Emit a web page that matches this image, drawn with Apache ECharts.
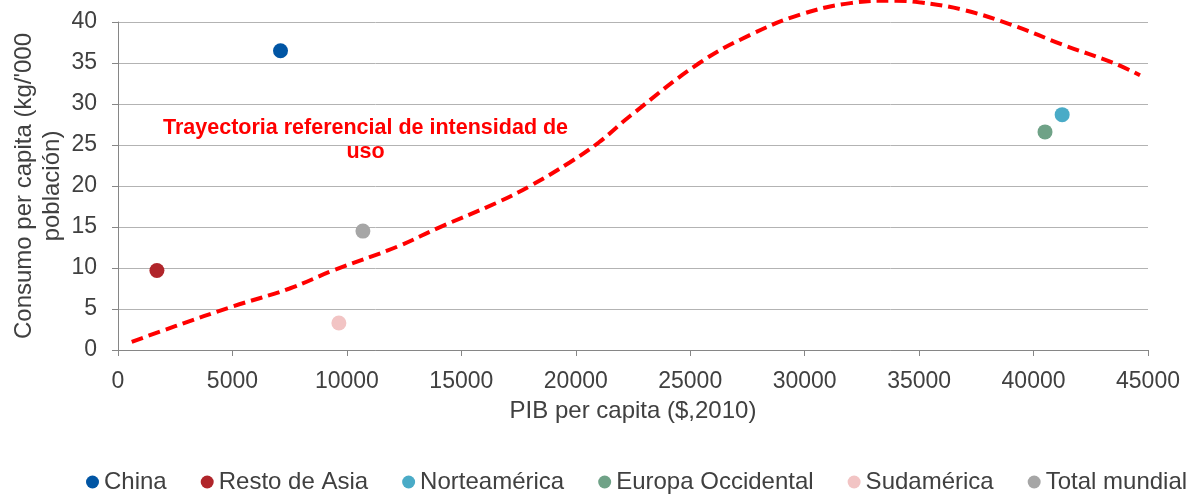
<!DOCTYPE html>
<html>
<head>
<meta charset="utf-8">
<script src="https://cdn.jsdelivr.net/npm/echarts@6/dist/echarts.min.js"></script>
<style>
  html, body { margin: 0; padding: 0; background: #fff; }
  #chart { width: 1193px; height: 494px; }
</style>
</head>
<body>
<div id="chart"></div>
<script>
// regiones: [PIB per capita, consumo per capita]
const regions = ['China', 'Resto de Asia', 'Norteamérica', 'Europa Occidental', 'Sudamérica', 'Total mundial']
const regionColors = ['#0055a4', '#b0252a', '#4aabc7', '#6fa287', '#f2c4c4', '#a6a6a6']
const regionPoints = [
  [7100, 36.5],
  [1700, 9.7],
  [41250, 28.7],
  [40500, 26.6],
  [9650, 3.3],
  [10700, 14.5],
]

// trayectoria referencial (curva punteada)
const trendX = [600, 2500, 5000, 7500, 9400, 12200, 14000, 16500, 18000, 19750, 21000, 22400, 25400, 27600, 29800, 32000, 34000, 35000, 36900, 39100, 41300, 43500, 44650]
const trendY = [1.0, 2.9, 5.3, 7.5, 9.7, 12.6, 14.9, 17.9, 20.0, 22.9, 25.3, 28.6, 35.0, 38.4, 40.9, 42.3, 42.6, 42.4, 41.5, 39.6, 37.2, 35.0, 33.5]

const xTicks = { min: 0, max: 45000, interval: 5000 }
const yTicks = { min: 0, max: 40, interval: 5 }

const font = '"Liberation Sans", Arial, sans-serif'
const textColor = '#404040'

const chart = echarts.init(document.getElementById('chart'))

const option = {
  animation: false,
  textStyle: { fontFamily: font },
  grid: {
    left: 118,
    right: 45,
    top: 22,
    bottom: 144,
    outerBoundsMode: 'none',
    containLabel: false,
  },
  legend: {
    top: 465,
    left: 81,
    width: 1300,
    itemWidth: 13,
    itemHeight: 13,
    itemGap: 34,
    icon: 'circle',
    textStyle: { fontSize: 24, color: textColor, fontFamily: font },
    data: regions,
  },
  xAxis: {
    type: 'value',
    min: xTicks.min,
    max: xTicks.max,
    interval: xTicks.interval,
    name: 'PIB per capita ($,2010)',
    nameLocation: 'middle',
    nameGap: 49,
    nameMoveOverlap: false,
    nameTextStyle: { fontSize: 24, color: textColor },
    axisLine: { lineStyle: { color: '#868686', width: 1 } },
    axisTick: { show: true, length: 6, lineStyle: { color: '#868686' } },
    axisLabel: { fontSize: 23, color: textColor, margin: 20, formatter: v => String(v) },
    splitLine: { show: false },
  },
  yAxis: {
    type: 'value',
    min: yTicks.min,
    max: yTicks.max,
    interval: yTicks.interval,
    name: 'Consumo per capita (kg/\'000\npoblación)',
    nameLocation: 'middle',
    nameGap: 52,
    nameMoveOverlap: false,
    nameTextStyle: { fontSize: 24, color: textColor, lineHeight: 28 },
    axisLine: { show: true, lineStyle: { color: '#868686', width: 1 } },
    axisTick: { show: true, length: 6, lineStyle: { color: '#868686' } },
    axisLabel: { fontSize: 23, color: textColor, margin: 21 },
    splitLine: { lineStyle: { color: '#b3b3b3', width: 1 } },
  },
  graphic: [
    {
      type: 'text',
      left: 163,
      top: 116,
      style: {
        text: 'Trayectoria referencial de intensidad de\nuso',
        fill: '#ff0000',
        font: 'bold 21.5px ' + font,
        textAlign: 'center',
        lineHeight: 24,
      },
    },
  ],
  series: [
    {
      name: 'Trayectoria',
      type: 'line',
      smooth: 0.4,
      clip: false,
      showSymbol: false,
      silent: true,
      lineStyle: { color: '#ff0000', width: 4, type: [12, 6] },
      data: trendX.map((x, i) => [x, trendY[i]]),
      z: 1,
    },
    ...regions.map((name, i) => ({
      name,
      type: 'scatter',
      symbolSize: 15,
      itemStyle: { color: regionColors[i], opacity: 1 },
      data: [regionPoints[i]],
      z: 3,
    })),
  ],
}

chart.setOption(option)
</script>
</body>
</html>
